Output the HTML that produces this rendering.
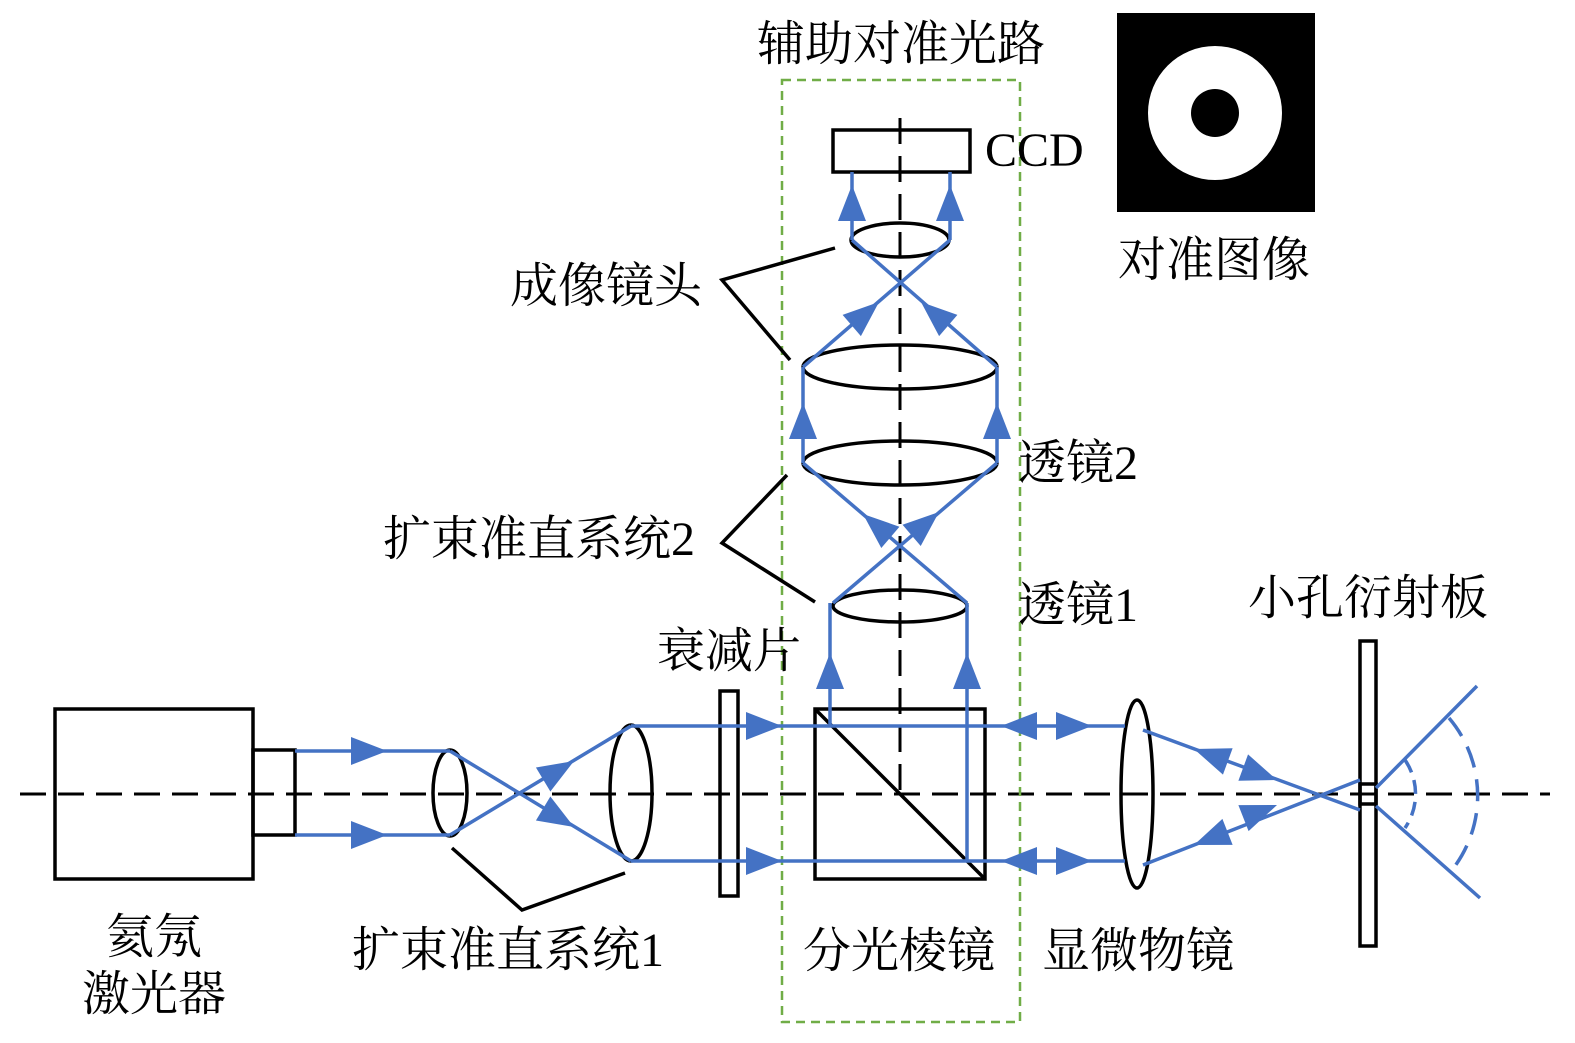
<!DOCTYPE html>
<html><head><meta charset="utf-8"><style>
html,body{margin:0;padding:0;background:#fff}
svg{display:block}
text{font-family:"Liberation Serif","Noto Serif CJK SC",serif;font-size:48px;fill:#000}
</style></head><body>
<svg width="1575" height="1043" viewBox="0 0 1575 1043" xmlns="http://www.w3.org/2000/svg">
<defs>
<polygon id="h" points="-36,-14 0,0 -36,14" fill="#4472C4"/>
</defs>
<line x1="20" y1="794" x2="1550" y2="794" stroke="#000" stroke-width="3" stroke-dasharray="26,12"/>
<line x1="900" y1="118" x2="900" y2="800" stroke="#000" stroke-width="3" stroke-dasharray="26,12"/>
<rect x="782" y="80" width="238" height="942" fill="none" stroke="#70AD47" stroke-width="2.5" stroke-dasharray="9,6"/>
<g fill="none" stroke="#000" stroke-width="3.5">
<rect x="55" y="709" width="198" height="170"/>
<rect x="253" y="750" width="42" height="85"/>
<ellipse cx="450" cy="793" rx="17" ry="43"/>
<ellipse cx="631" cy="793" rx="21" ry="68"/>
<rect x="720" y="691" width="18" height="205"/>
<rect x="815" y="709" width="170" height="170"/>
<line x1="815" y1="709" x2="985" y2="879"/>
<ellipse cx="900" cy="606" rx="67" ry="16"/>
<ellipse cx="900" cy="463" rx="97" ry="22"/>
<ellipse cx="900" cy="367" rx="97" ry="22"/>
<ellipse cx="900" cy="240" rx="49" ry="17"/>
<rect x="833" y="130" width="137" height="42"/>
<ellipse cx="1137" cy="794" rx="16" ry="94"/>
<rect x="1360" y="641" width="16" height="305"/>
<rect x="1360" y="784" width="16" height="20"/>
<polyline points="835,248 722,280 790,360"/>
<polyline points="787,475 722,543 815,602"/>
<polyline points="452,848 522,910 625,873"/>
</g>
<g fill="none" stroke="#4472C4" stroke-width="3.5">
<line x1="295" y1="751" x2="450" y2="751"/>
<line x1="295" y1="835" x2="450" y2="835"/>
<line x1="450" y1="751" x2="631" y2="861"/>
<line x1="450" y1="835" x2="631" y2="726"/>
<line x1="631" y1="726" x2="1125" y2="726"/>
<line x1="631" y1="861" x2="1125" y2="861"/>
<line x1="830" y1="726" x2="830" y2="603"/>
<line x1="967" y1="861" x2="967" y2="603"/>
<line x1="833" y1="603" x2="997" y2="463"/>
<line x1="967" y1="603" x2="803" y2="463"/>
<line x1="803" y1="463" x2="803" y2="367"/>
<line x1="997" y1="463" x2="997" y2="367"/>
<line x1="803" y1="367" x2="950" y2="240"/>
<line x1="997" y1="367" x2="852" y2="240"/>
<line x1="852" y1="240" x2="852" y2="172"/>
<line x1="950" y1="240" x2="950" y2="172"/>
<line x1="1143" y1="730" x2="1360" y2="810"/>
<line x1="1143" y1="865" x2="1360" y2="780"/>
<line x1="1376" y1="788" x2="1477" y2="686"/>
<line x1="1376" y1="806" x2="1480" y2="898"/>
<path d="M1405,760 A60,60 0 0 1 1405,828" stroke-dasharray="14,8"/>
<path d="M1449,718 A120,120 0 0 1 1452,870" stroke-dasharray="22,12"/>
</g>
<use href="#h" transform="translate(387,751)"/>
<use href="#h" transform="translate(387,835)"/>
<use href="#h" transform="translate(574,761) rotate(-31)"/>
<use href="#h" transform="translate(574,827) rotate(31)"/>
<use href="#h" transform="translate(782,726)"/>
<use href="#h" transform="translate(782,861)"/>
<use href="#h" transform="translate(830,653) rotate(-90)"/>
<use href="#h" transform="translate(967,653) rotate(-90)"/>
<use href="#h" transform="translate(939,512) rotate(-40.5)"/>
<use href="#h" transform="translate(863,514) rotate(-139.5)"/>
<use href="#h" transform="translate(803,403) rotate(-90)"/>
<use href="#h" transform="translate(997,403) rotate(-90)"/>
<use href="#h" transform="translate(879,302) rotate(-40.8)"/>
<use href="#h" transform="translate(921,302) rotate(-139.2)"/>
<use href="#h" transform="translate(852,185) rotate(-90)"/>
<use href="#h" transform="translate(950,185) rotate(-90)"/>
<use href="#h" transform="translate(1001,726) rotate(180)"/>
<use href="#h" transform="translate(1092,726)"/>
<use href="#h" transform="translate(1001,861) rotate(180)"/>
<use href="#h" transform="translate(1092,861)"/>
<use href="#h" transform="translate(1194,749) rotate(200.2)"/>
<use href="#h" transform="translate(1277,780) rotate(20.2)"/>
<use href="#h" transform="translate(1194,845) rotate(158.6)"/>
<use href="#h" transform="translate(1277,805) rotate(-21.4)"/>
<rect x="1117" y="13" width="198" height="199" fill="#000"/>
<circle cx="1215" cy="113" r="67" fill="#fff"/>
<circle cx="1215" cy="113" r="24" fill="#000"/>
<text x="757" y="60">辅助对准光路</text>
<text x="985" y="166">CCD</text>
<text x="1118" y="276">对准图像</text>
<text x="510" y="302">成像镜头</text>
<text x="1018" y="479">透镜2</text>
<text x="383" y="555">扩束准直系统2</text>
<text x="1018" y="621">透镜1</text>
<text x="1248" y="614">小孔衍射板</text>
<text x="657" y="667">衰减片</text>
<text x="106" y="953">氦氖</text>
<text x="82" y="1010">激光器</text>
<text x="352" y="966">扩束准直系统1</text>
<text x="803" y="967">分光棱镜</text>
<text x="1042" y="967">显微物镜</text>
</svg>
</body></html>
